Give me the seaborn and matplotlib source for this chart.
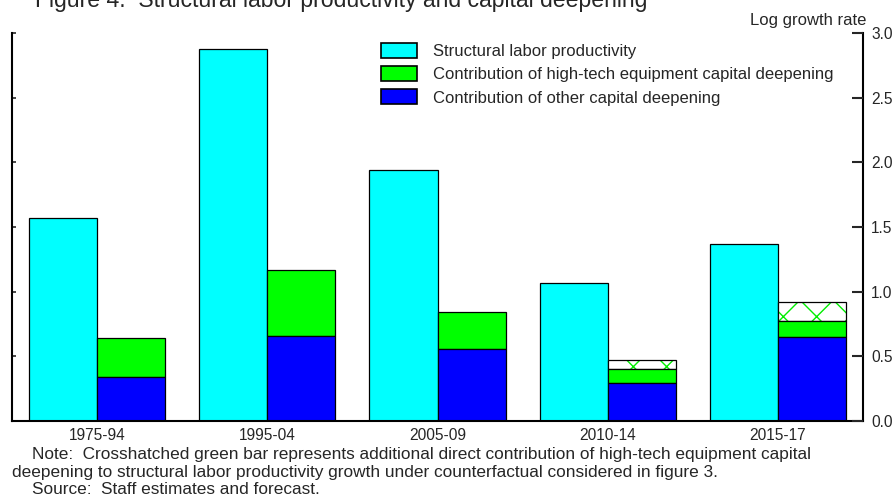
import numpy as np
import pandas as pd
import seaborn as sns
import matplotlib.pyplot as plt

# values (log growth rate)
periods = ['1975-94', '1995-04', '2005-09', '2010-14', '2015-17']
labor_prod = [1.57, 2.88, 1.94, 1.07, 1.37]
other_cap = [0.34, 0.66, 0.56, 0.29, 0.65]
hightech_cap = [0.30, 0.51, 0.28, 0.11, 0.12]
hightech_extra = [0.0, 0.0, 0.0, 0.07, 0.15]   # crosshatched counterfactual piece

legend_labels = ['Structural labor productivity',
                 'Contribution of high-tech equipment capital deepening',
                 'Contribution of other capital deepening']
yticks = [0.0, 0.5, 1.0, 1.5, 2.0, 2.5, 3.0]

df = pd.DataFrame({'period': periods, 'labor': labor_prod, 'other': other_cap,
                   'hightech': hightech_cap, 'extra': hightech_extra})
df['green_top'] = df['other'] + df['hightech']

sns.set_style('white')
plt.rcParams['font.family'] = ['Liberation Sans', 'DejaVu Sans']
plt.rcParams['hatch.linewidth'] = 1.0

fig = plt.figure(figsize=(8.96, 4.97), dpi=100)
ax = fig.add_axes([12/896, 1 - 421/497, (863 - 12)/896, (421 - 33)/497])

x = np.arange(len(df))
w = 0.4
ax.bar(x - w, df['labor'], width=w, align='edge', color='#00ffff', edgecolor='black', linewidth=0.9)
# crosshatched piece: hatch first, outline on top
mask = (df['extra'] > 0).to_numpy()
ax.bar(x[mask], df.loc[mask, 'extra'], bottom=df.loc[mask, 'green_top'], width=w, align='edge',
       color='white', edgecolor='#00ee00', hatch='x', linewidth=0)
ax.bar(x[mask], df.loc[mask, 'extra'], bottom=df.loc[mask, 'green_top'], width=w, align='edge',
       fill=False, edgecolor='black', linewidth=0.9)
ax.bar(x, df['hightech'], bottom=df['other'], width=w, align='edge', color='#00ff00',
       edgecolor='black', linewidth=0.9)
ax.bar(x, df['other'], width=w, align='edge', color='#0000ff', edgecolor='black', linewidth=0.9)

ax.set_xlim(-0.5, len(df) - 0.5)
ax.set_ylim(0, 3.0)
ax.set_xticks(x)
ax.set_xticklabels(df['period'], fontsize=11.2)
ax.tick_params(axis='x', length=0, pad=5)

ax.spines['top'].set_visible(False)
for side in ['left', 'right', 'bottom']:
    ax.spines[side].set_visible(True)
    ax.spines[side].set_color('black')
    ax.spines[side].set_linewidth(1.5)

# right axis carries the labels and longer ticks
ax2 = ax.twinx()
ax2.set_ylim(ax.get_ylim())
ax2.set_yticks(yticks)
ax2.set_yticklabels([f'{t:.1f}' for t in yticks])
ax2.tick_params(axis='y', direction='in', length=8, width=1.5, labelsize=11.2, pad=6)
for s in ax2.spines.values():
    s.set_visible(False)

# small inward ticks on the left spine, no labels
ax.set_yticks(yticks)
ax.tick_params(axis='y', direction='in', left=True, right=False, labelleft=False,
               labelright=False, length=3, width=1.2)

handles = [plt.Rectangle((0, 0), 1, 1, facecolor=c, edgecolor='black', linewidth=1.2)
           for c in ['#00ffff', '#00ff00', '#0000ff']]
fig.legend(handles, legend_labels, loc='upper left', bbox_to_anchor=(381/896, 1 - 43/497),
           frameon=False, fontsize=12, handlelength=2.15, handleheight=1.0,
           handletextpad=0.95, labelspacing=0.42, borderpad=0, borderaxespad=0)

fig.text(866/896, 1 - 20/497, 'Log growth rate', ha='right', va='center', fontsize=12)
fig.text(35/896, 1 - 7/497, 'Figure 4.  Structural labor productivity and capital deepening',
         ha='left', va='baseline', fontsize=16.6)
fig.text(32/896, 1 - 454/497,
         'Note:  Crosshatched green bar represents additional direct contribution of high-tech equipment capital',
         ha='left', va='center', fontsize=12.4)
fig.text(12/896, 1 - 472/497,
         'deepening to structural labor productivity growth under counterfactual considered in figure 3.',
         ha='left', va='center', fontsize=12.4)
fig.text(32/896, 1 - 489/497, 'Source:  Staff estimates and forecast.',
         ha='left', va='center', fontsize=12.4)

fig.savefig('out.png', dpi=100)
